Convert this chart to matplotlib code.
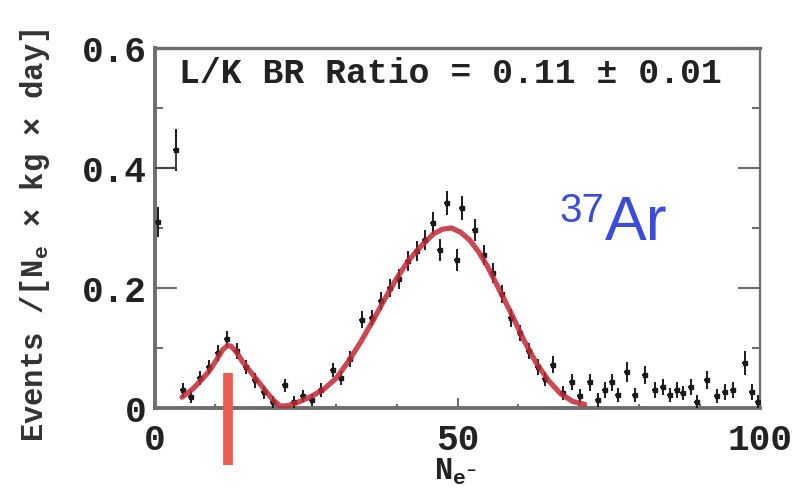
import matplotlib
matplotlib.use("Agg")
import matplotlib.pyplot as plt
from matplotlib.ticker import MultipleLocator, FixedLocator

plt.rcParams['mathtext.fontset'] = 'custom'
plt.rcParams['mathtext.rm'] = 'Liberation Mono:bold'
plt.rcParams['mathtext.it'] = 'Liberation Mono:bold'
plt.rcParams['mathtext.bf'] = 'Liberation Mono:bold'

# ---- data ----
pt_x = [0.5, 3.5, 4.6, 6.0, 7.5, 9.0, 10.5, 12.0, 13.5, 15.0, 16.5, 18.0, 19.5,
        21.5, 23.0, 24.5, 26.0, 27.5, 29.4, 30.8, 32.2, 34.2, 35.8, 37.3, 38.8,
        40.3, 41.8, 43.3, 44.6, 46.0, 47.1, 48.3, 49.9, 50.8, 52.9, 54.3, 55.8,
        57.3, 58.8, 60.3, 61.8, 63.3, 64.5, 65.8, 67.4, 68.9, 70.3, 71.9, 73.2,
        74.4, 75.5, 76.5, 78.0, 79.3, 81.0, 82.6, 84.0, 85.1, 86.2, 87.3, 88.5,
        89.6, 91.2, 92.8, 94.2, 95.5, 97.5, 98.7, 99.7]
pt_y = [0.31, 0.43, 0.030, 0.018, 0.050, 0.068, 0.092, 0.115, 0.095, 0.068, 0.046,
        0.026, 0.010, 0.038, 0.010, 0.020, 0.014, 0.030, 0.063, 0.050, 0.082, 0.147,
        0.150, 0.178, 0.200, 0.215, 0.245, 0.262, 0.280, 0.308, 0.263, 0.342, 0.247,
        0.333, 0.297, 0.255, 0.225, 0.190, 0.150, 0.125, 0.095, 0.068, 0.048, 0.072,
        0.025, 0.043, 0.020, 0.043, 0.013, 0.030, 0.043, 0.022, 0.060, 0.022, 0.055,
        0.030, 0.035, 0.022, 0.030, 0.025, 0.035, 0.010, 0.047, 0.020, 0.027, 0.030,
        0.075, 0.027, 0.010]
pt_err = [0.025, 0.035, 0.012, 0.010, 0.012, 0.012, 0.013, 0.013, 0.013, 0.012, 0.012,
          0.011, 0.010, 0.011, 0.010, 0.010, 0.010, 0.011, 0.012, 0.012, 0.013, 0.014,
          0.014, 0.015, 0.015, 0.016, 0.016, 0.017, 0.017, 0.018, 0.018, 0.020, 0.018,
          0.020, 0.018, 0.017, 0.016, 0.015, 0.015, 0.014, 0.013, 0.013, 0.012, 0.014,
          0.012, 0.013, 0.012, 0.014, 0.012, 0.013, 0.014, 0.012, 0.016, 0.012, 0.015,
          0.013, 0.013, 0.012, 0.013, 0.012, 0.013, 0.012, 0.015, 0.012, 0.013, 0.013,
          0.020, 0.013, 0.012]

step_x = [0.0, 3.5]
step_y = [0.40, 0.40]

fit_x = [4.5, 6.3, 8.0, 9.1, 10.3, 11.2, 12.0, 12.6, 13.5, 14.5, 16.0, 17.4, 18.5,
         19.5, 20.7, 22.0, 24.0, 26.0, 28.0, 30.0, 32.0, 34.0, 36.0, 38.0, 40.0,
         42.0, 44.0, 46.0, 47.5, 49.0, 50.5, 52.0, 53.5, 55.0, 57.0, 59.0, 61.0,
         63.0, 65.0, 67.0, 69.0, 71.0]
fit_y = [0.018, 0.032, 0.050, 0.063, 0.082, 0.097, 0.104, 0.103, 0.093, 0.077, 0.058,
         0.040, 0.026, 0.014, 0.003, 0.004, 0.011, 0.020, 0.032, 0.050, 0.078, 0.110,
         0.145, 0.182, 0.217, 0.247, 0.270, 0.290, 0.298, 0.300, 0.293, 0.280, 0.260,
         0.235, 0.195, 0.155, 0.112, 0.075, 0.046, 0.024, 0.011, 0.006]

marker_x = [12.1, 12.1]
marker_y = [0.058, -0.095]

x_ticks = [0, 50, 100]
x_ticklabels = ["0", "50", "100"]
y_ticks = [0.0, 0.2, 0.4, 0.6]
y_ticklabels = ["0", "0.2", "0.4", "0.6"]

# ---- figure ----
fig = plt.figure(figsize=(8.02, 4.93), dpi=100)
ax = fig.add_axes([0.193, 0.1724, 0.755, 0.7302])

mono = 'Liberation Mono'
gray = '#6e6e6e'

ax.errorbar(pt_x, pt_y, yerr=pt_err, xerr=0.5, fmt='s', color='#1a1a1a',
            markersize=3.5, elinewidth=1.4, capsize=0, zorder=3)
ax.plot(step_x, step_y, color='#444444', lw=1.5, zorder=3)
ax.plot([step_x[-1], step_x[-1]], [step_y[-1], pt_y[1]], color='#444444', lw=1.5, zorder=3)
ax.plot(fit_x, fit_y, color='#c02a36', lw=3.8, alpha=0.85, zorder=4,
        solid_capstyle='round', solid_joinstyle='round')

ax.plot(marker_x, marker_y, color='#ec5a50', lw=7, clip_on=False, zorder=6,
        solid_capstyle='butt')

ax.set_xlim(0, 100)
ax.set_ylim(0, 0.6)

ax.xaxis.set_major_locator(FixedLocator(x_ticks))
ax.xaxis.set_minor_locator(MultipleLocator(10))
ax.yaxis.set_major_locator(FixedLocator(y_ticks))
ax.yaxis.set_minor_locator(MultipleLocator(0.1))
ax.set_xticklabels(x_ticklabels)
ax.set_yticklabels(y_ticklabels)

ax.tick_params(axis='both', which='both', direction='in', colors=gray,
               labelcolor='#222222', width=1.5)
ax.tick_params(axis='y', which='major', length=16, right=True, pad=6)
ax.tick_params(axis='y', which='minor', length=6, right=True)
ax.tick_params(axis='x', which='major', length=7, top=False, pad=11)
ax.tick_params(axis='x', which='minor', length=3, top=False)
for lab in ax.get_xticklabels() + ax.get_yticklabels():
    lab.set_fontfamily(mono)
    lab.set_fontweight('bold')
    lab.set_fontsize(26)

for side, lw in [('left', 2.8), ('bottom', 2.8), ('top', 2.4), ('right', 1.6)]:
    ax.spines[side].set_color(gray)
    ax.spines[side].set_linewidth(lw)

ax.set_xlabel(r"N$_{e^{-}}$", fontfamily=mono, fontweight='bold', fontsize=22,
              color='#222222')
ax.xaxis.set_label_coords(0.497, -0.135)
ax.set_ylabel(r"Events /[N$_e$ × kg × day]", fontfamily=mono, fontweight='bold',
              fontsize=22, color='#333333')
ax.yaxis.set_label_coords(-0.17, 0.48)

ax.text(0.04, 0.93, "L/K BR Ratio = 0.11 ± 0.01", transform=ax.transAxes,
        fontfamily=mono, fontweight='bold', fontsize=25, color='#222222',
        ha='left', va='center')

ax.text(74.4, 0.28, "Ar", fontfamily='Liberation Sans', fontsize=45,
        color='#3a4cd8', ha='left', va='baseline')
ax.text(74.3, 0.31, "37", fontfamily='Liberation Sans', fontsize=29,
        color='#3a4cd8', ha='right', va='baseline')

fig.savefig("out.png", dpi=100)
